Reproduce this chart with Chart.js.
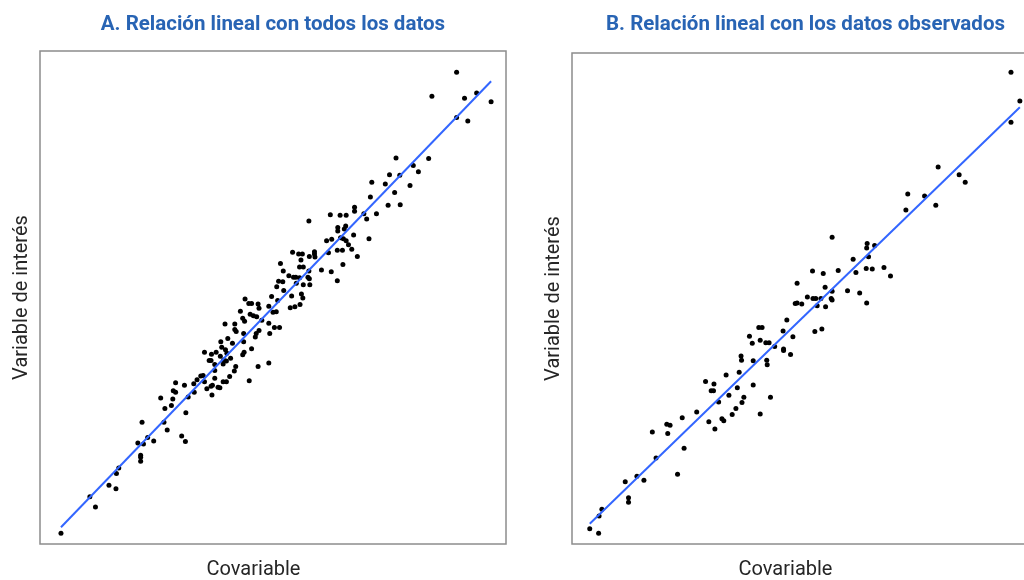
<!DOCTYPE html>
<html lang="es">
<head>
<meta charset="utf-8">
<title>Relación lineal</title>
<script src="https://cdn.jsdelivr.net/npm/chart.js@4.4.1/dist/chart.umd.min.js"></script>
<style>
    html, body { margin: 0; padding: 0; background: #fff; overflow: hidden; }
    body { width: 1024px; height: 580px; position: relative; }
    canvas { position: absolute; top: 0; }
    #panelA { left: 0; }
    #panelB { left: 532px; }
</style>
</head>
<body>
<canvas id="panelA" width="510" height="580"></canvas>
<canvas id="panelB" width="540" height="580"></canvas>
<script>
// Panel A: todos los datos (covariable, variable de interés)
const covA = [
    89.4, 84.1, 91.1, 93.7, 96.8, 89.4, 91.8, 76.4, 83.4, 80.1, 75.0, 77.2, 81.2, 71.2, 74.1,
    79.4, 76.1, 70.9, 74.7, 77.3, 67.5, 67.5, 69.5, 72.2, 62.3, 64.4, 65.7, 70.1, 57.7, 63.9,
    65.6, 65.3, 63.9, 67.3, 70.6, 61.5, 62.6, 64.5, 65.1, 65.7, 66.2, 66.9, 63.8, 64.9, 61.9,
    68.1, 58.9, 58.9, 59.0, 57.8, 54.2, 55.5, 56.3, 56.0, 51.6, 55.7, 56.5, 65.0, 60.4, 62.5,
    57.7, 52.2, 53.4, 54.4, 54.9, 55.7, 57.5, 57.8, 51.2, 52.1, 63.8, 55.0, 56.5, 57.9, 50.8,
    52.3, 56.1, 54.0, 56.4, 53.7, 54.7, 55.8, 44.0, 49.7, 44.8, 45.4, 46.8, 51.0, 43.0, 47.0,
    49.1, 45.1, 45.8, 46.5, 43.5, 43.9, 47.6, 50.0, 50.7, 39.7, 41.8, 49.1, 50.3, 51.4, 41.8,
    42.1, 47.0, 43.7, 46.4, 49.3, 40.3, 46.2, 43.7, 38.8, 41.3, 39.0, 39.8, 40.1, 45.4, 43.8,
    43.5, 35.3, 37.8, 36.8, 38.7, 40.9, 36.3, 36.7, 39.4, 40.0, 37.5, 39.3, 42.0, 46.8, 49.1,
    41.7, 37.5, 35.0, 34.5, 33.7, 33.0, 35.3, 37.5, 40.7, 39.3, 40.0, 44.9, 37.0, 36.7, 35.8,
    38.2, 38.6, 29.1, 31.0, 28.6, 29.1, 33.1, 36.9, 25.9, 28.5, 31.8, 28.2, 26.8, 31.3, 21.9,
    26.6, 27.3, 30.4, 31.2, 23.1, 24.4, 21.0, 22.2, 21.6, 21.6, 21.6, 16.9, 16.4, 14.8, 16.3,
    10.7, 11.9, 4.5
];
const varA = [
    95.7, 90.8, 90.4, 91.5, 89.7, 86.5, 85.8, 78.3, 78.2, 76.8, 74.9, 74.8, 75.5, 73.4, 73.0,
    72.7, 71.3, 70.4, 68.7, 68.8, 68.3, 67.5, 67.0, 67.0, 66.8, 66.7, 66.7, 65.9, 65.5, 64.2,
    64.5, 63.9, 63.5, 62.7, 61.9, 61.5, 61.8, 62.1, 61.9, 61.5, 60.7, 59.8, 59.6, 59.6, 59.1,
    58.3, 59.3, 58.8, 58.2, 58.3, 59.2, 58.8, 58.8, 57.6, 56.9, 56.2, 56.2, 56.7, 55.6, 55.2,
    55.4, 55.4, 54.4, 54.1, 54.1, 54.0, 54.1, 53.8, 53.3, 53.2, 53.4, 52.9, 52.6, 52.6, 52.2,
    51.4, 50.7, 50.3, 49.9, 47.9, 48.1, 48.6, 49.7, 50.2, 48.8, 48.8, 48.7, 49.4, 47.2, 47.8,
    48.2, 46.6, 46.3, 46.1, 45.8, 45.2, 45.4, 47.0, 47.1, 44.6, 44.6, 44.8, 43.9, 43.9, 43.5,
    43.1, 43.3, 42.7, 42.7, 42.7, 41.7, 42.0, 41.0, 41.0, 40.7, 39.9, 39.4, 38.7, 39.6, 38.9,
    38.4, 38.9, 38.9, 38.5, 38.1, 37.7, 37.2, 37.2, 37.3, 37.1, 36.4, 36.5, 36.0, 36.0, 36.7,
    35.1, 35.2, 34.2, 34.1, 33.3, 32.5, 32.9, 33.6, 34.0, 32.9, 32.9, 33.1, 32.2, 32.0, 31.5,
    31.8, 31.7, 32.7, 32.2, 31.1, 30.8, 30.8, 30.2, 29.6, 29.4, 29.8, 28.1, 27.5, 26.6, 24.7,
    24.7, 23.1, 21.9, 20.8, 21.6, 20.9, 20.5, 20.3, 18.0, 17.6, 16.8, 15.4, 14.3, 11.9, 11.2,
    9.6, 7.5, 2.2
];
// recta ajustada con todos los datos
const interceptoA = -1.0;
const pendienteA = 0.980;

// Panel B: solo los datos observados
const covB = [
    94.0, 95.9, 94.0, 78.4, 82.9, 84.2, 71.9, 75.5, 77.9, 71.5, 55.7, 63.2, 63.1, 64.8, 60.2,
    63.5, 51.5, 53.8, 57.0, 60.8, 63.0, 64.3, 66.8, 68.2, 48.2, 54.2, 55.7, 59.0, 61.6, 50.4,
    51.6, 52.2, 53.3, 55.5, 55.7, 63.1, 47.8, 48.2, 49.2, 52.5, 54.3, 52.0, 53.5, 47.3, 46.8,
    46.0, 45.2, 45.3, 45.3, 40.0, 40.7, 38.0, 40.3, 38.6, 41.5, 42.2, 43.4, 36.2, 36.3, 38.8,
    41.7, 41.8, 33.0, 35.8, 28.6, 30.4, 29.8, 30.3, 35.4, 38.8, 33.6, 36.8, 42.5, 31.4, 36.4,
    35.1, 34.3, 40.3, 26.7, 23.6, 29.3, 32.1, 32.5, 30.6, 20.3, 21.0, 17.2, 20.5, 24.0, 18.0,
    11.4, 13.9, 15.4, 22.6, 12.1, 12.1, 6.4, 5.8, 3.8, 5.7
];
const varB = [
    96.1, 90.2, 85.9, 76.8, 75.2, 73.7, 71.3, 70.9, 69.0, 68.0, 62.5, 61.2, 60.3, 60.8, 58.0,
    58.5, 55.6, 55.1, 55.7, 55.3, 56.1, 56.0, 56.3, 54.6, 53.1, 52.3, 51.5, 51.6, 51.1, 50.3,
    50.0, 50.0, 50.0, 50.0, 49.7, 49.1, 49.0, 49.1, 48.9, 48.5, 48.3, 43.3, 43.8, 42.2, 38.6,
    45.6, 43.4, 39.7, 39.4, 44.1, 44.1, 42.3, 41.5, 40.9, 41.0, 41.0, 40.2, 38.3, 37.4, 37.3,
    37.4, 36.5, 34.4, 35.0, 33.1, 32.6, 31.2, 31.2, 31.8, 32.4, 30.3, 29.9, 29.9, 28.9, 28.8,
    27.6, 26.4, 26.5, 26.9, 25.7, 24.9, 25.5, 25.1, 23.4, 24.4, 24.2, 22.8, 22.5, 19.5, 17.5,
    12.7, 13.8, 13.0, 14.2, 9.4, 8.5, 7.1, 5.7, 3.1, 2.2
];
const interceptoB = 0.61;
const pendienteB = 0.921;

const tituloA = 'A. Relación lineal con todos los datos';
const tituloB = 'B. Relación lineal con los datos observados';

// marco gris alrededor del área de trazado
const marco = {
    id: 'marco',
    beforeDatasetsDraw(chart) {
        const { ctx, chartArea: a } = chart;
        ctx.save();
        ctx.strokeStyle = '#8c8c8c';
        ctx.lineWidth = 1.5;
        ctx.strokeRect(a.left, a.top, a.right - a.left, a.bottom - a.top);
        ctx.restore();
    }
};

function crearPanel(id, cov, vari, intercepto, pendiente, titulo, padTitulo, padDer) {
    const puntos = cov.map((x, i) => ({ x: x, y: vari[i] }));
    // la recta va del mínimo al máximo de la covariable
    const recta = [Math.min(...cov), Math.max(...cov)].map(x => ({ x: x, y: intercepto + pendiente * x }));

    return new Chart(document.getElementById(id), {
        type: 'scatter',
        data: {
            datasets: [
                { data: recta, showLine: true, borderColor: '#3366FF', borderWidth: 2, pointRadius: 0, order: 0 },
                { data: puntos, backgroundColor: '#000', borderWidth: 0, pointRadius: 2.5, order: 1 }
            ]
        },
        options: {
            responsive: false,
            animation: false,
            events: [],
            layout: { padding: { left: 0, right: padDer, top: 0, bottom: 0 } },
            scales: {
                x: { display: false, min: 0, max: 100 },
                y: {
                    min: 0, max: 100,
                    ticks: { display: false },
                    grid: { display: false, drawTicks: false },
                    border: { display: false },
                    title: {
                        display: true,
                        text: 'Variable de interés',
                        color: '#262626',
                        font: { family: 'Roboto', size: 20 },
                        padding: { top: 10, bottom: 6 }
                    }
                }
            },
            plugins: {
                legend: { display: false },
                tooltip: { enabled: false },
                title: {
                    display: true,
                    text: titulo,
                    fullSize: false,
                    color: '#2864b4',
                    font: { family: 'Roboto', size: 20.5, weight: 'bold' },
                    padding: { top: 12.7, bottom: padTitulo }
                },
                subtitle: {
                    display: true,
                    position: 'bottom',
                    text: 'Covariable',
                    color: '#262626',
                    font: { family: 'Roboto', size: 20, lineHeight: 1 },
                    padding: { top: 16, bottom: 0 }
                }
            }
        },
        plugins: [marco]
    });
}

crearPanel('panelA', covA, varA, interceptoA, pendienteA, tituloA, 13.7, 3);
crearPanel('panelB', covB, varB, interceptoB, pendienteB, tituloB, 15.7, 33);
</script>
</body>
</html>
